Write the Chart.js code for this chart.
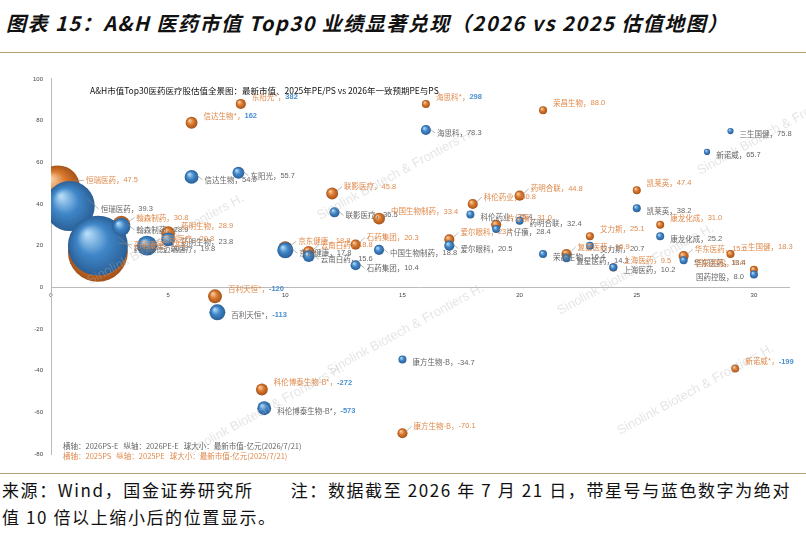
<!DOCTYPE html>
<html><head><meta charset="utf-8">
<script src="https://cdn.jsdelivr.net/npm/chart.js@4"></script>
<style>
body{margin:0;width:806px;height:535px;background:#fff;position:relative;overflow:hidden;font-family:"Noto Sans CJK SC",sans-serif}
#title{position:absolute;left:6px;top:8px;font-size:20px;font-weight:bold;font-style:italic;color:#111;white-space:nowrap;letter-spacing:1.5px}
#line1{position:absolute;left:0;top:52px;width:806px;border-top:1px solid #b9a27a}
#line2{position:absolute;left:0;top:473px;width:806px;border-top:1px solid #b9a27a}
#wrap{position:absolute;left:0;top:49px;width:819px;height:435px}
#foot{position:absolute;left:2px;top:476px;width:804px;font-size:17px;line-height:27px;color:#111;letter-spacing:1.6px}
</style></head><body>
<div id="title">图表 15：A&amp;H 医药市值 Top30 业绩显著兑现（2026 vs 2025 估值地图）</div>
<div id="line1"></div>
<div id="line2"></div>
<div id="foot">来源：Wind，国金证券研究所　　注：数据截至 2026 年 7 月 21 日，带星号与蓝色数字为绝对值 10 倍以上缩小后的位置显示。</div>
<div id="wrap"><canvas id="c"></canvas></div>
<script>
const companies = ['恒瑞医药','药明康德','翰森制药','迈瑞医疗','药明生物','信达生物','东阳光','京东健康','云南白药','联影医疗',
  '石药集团','中国生物制药','海思科','科伦药业','片仔癀','爱尔眼科','药明合联','荣昌生物','复星医药','艾力斯',
  '凯莱英','康龙化成','上海医药','华东医药','三生国健','新诺威','国药控股','百利天恒','科伦博泰生物-B','康方生物-B'];

// 2026: PS-E (x), PE-E (plotted y), label text, market cap (亿元)
const ps26 = [0.8,2.0,3.0,4.1,5.0,6.0,8.0,10.0,11.0,12.1,13.0,14.0,16.0,17.9,19.0,17.0,20.0,21.0,22.0,23.0,25.0,26.0,24.0,27.0,29.0,28.0,30.0,7.1,9.1,15.0];
const pe26 = [39,20,29,20,23,53,55,17.8,15,36,10.6,18,75.5,35,28,20,32,16,14,20,38,24.5,9.6,13,75,65,6.2,-12,-58,-34.6];
const pe26Text = ['39.3','20.8','28.9','19.8','23.8','54.0','55.7','17.8','15.6','36.5','10.4','18.8','78.3','35.4','28.4','20.5','32.4','16.4','14.3','20.7',
  '38.2','25.2','10.2','13.4','75.8','65.7','8.0','*-113','*-573','-34.7'];
const cap26 = [3900,5600,510,620,300,300,220,400,220,160,160,160,160,100,100,160,100,100,100,100,100,100,100,100,60,60,100,400,300,100];

// 2025: PS (x), PE (plotted y), label text, market cap (亿元)
const ps25 = [0.3,2.0,3.0,4.1,5.0,6.0,8.1,10.0,11.0,12.0,13.0,14.0,16.0,18.0,19.0,17.0,20.0,21.0,22.0,23.0,25.0,26.0,24.0,27.0,29.0,29.2,30.0,7.0,9.0,15.0];
const pe25 = [48,17,30,20,26,79,88,18.8,17,45,20.5,33,88,40,30,23,44,85,16,24.5,46.6,30,9.5,15,16,-39,8.4,-4.3,-49,-70];
const pe25Text = ['47.5','18.8','30.8','20.8','28.9','*162','*382','18.8','18.8','45.8','20.3','33.4','*298','40.8','31.0','23.7','44.8','88.0','16.9','25.1',
  '47.4','31.0','9.5','15.0','18.3','*-199','8.4','*-120','*-272','-70.1'];
const cap25 = [3000,5600,510,510,300,220,160,300,220,220,160,220,100,160,160,160,160,100,160,100,100,100,100,160,100,100,100,300,220,160];

const xTicks = [0,5,10,15,20,25,30];
const yTicks = [-80,-60,-40,-20,0,20,40,60,80,100];

const ORANGE = '#d9782d', BLUE = '#3f86c8';
const LBL25 = '#e08a4c', LBL26 = '#666', NUM_BLUE = '#4a8fd0';

function radius(cap){ return Math.sqrt(cap) / 2.5; }

function pts(xs, ys, caps, txt){
  return xs.map((x,i)=>({x:x, y:ys[i], r:radius(caps[i]), name:companies[i], t:txt[i]}));
}

function shade(base, light, dark){
  return c => {
    const ch = c.chart;
    if (!ch.chartArea || !c.raw) return base;
    const px = ch.scales.x.getPixelForValue(c.raw.x), py = ch.scales.y.getPixelForValue(c.raw.y), r = c.raw.r;
    const g = ch.ctx.createRadialGradient(px - r*0.35, py - r*0.4, r*0.05, px, py, r);
    g.addColorStop(0, light); g.addColorStop(0.5, base); g.addColorStop(1, dark);
    return g;
  };
}

const labelPlugin = {
  id:'labels',
  afterDatasetsDraw(chart){
    const ctx = chart.ctx, xs = chart.scales.x, ys = chart.scales.y;
    const top = chart.chartArea.top;
    ctx.save();
    // watermark
    ctx.font = '13px Arial'; ctx.fillStyle = 'rgba(180,180,180,0.35)';
    [[90,236],[320,171],[560,266],[700,126],[330,326],[620,386],[190,406]].forEach(p=>{
      ctx.save(); ctx.translate(p[0], p[1]); ctx.rotate(-0.5);
      ctx.fillText('Sinolink Biotech & Frontiers H.', 0, 0); ctx.restore();
    });
    chart.data.datasets.forEach(ds=>{
      const is25 = ds.label === '2025';
      const col = is25 ? LBL25 : LBL26;
      ds.data.forEach(d=>{
        const px = xs.getPixelForValue(d.x), py = ys.getPixelForValue(d.y);
        const star = d.t.startsWith('*');
        const num = star ? d.t.slice(1) : d.t;
        const name = d.name + (star ? '*' : '');
        ctx.font = '7.5px "Noto Sans CJK SC"';
        const s = name + '，';
        const w = ctx.measureText(s).width;
        ctx.font = (star ? 'bold ' : '') + '7.5px Arial';
        const wn = ctx.measureText(num).width;
        const flip = d.x >= 29.5;
        const lx = flip ? px - d.r - 6 - w - wn : px + d.r + 6;
        const ly = py + (is25 ? -7 : 3);
        if (!star && d.r > 5) {
          ctx.strokeStyle = '#888'; ctx.lineWidth = 0.6;
          ctx.beginPath(); ctx.moveTo(px + d.r*0.7, py - d.r*0.3); ctx.lineTo(lx - 2, ly); ctx.stroke();
        }
        ctx.textBaseline = 'middle';
        ctx.font = '7.5px "Noto Sans CJK SC"';
        ctx.fillStyle = col;
        ctx.fillText(s, lx, ly);
        if (star) { ctx.font = 'bold 7.5px Arial'; ctx.fillStyle = NUM_BLUE; }
        else ctx.font = '7.5px Arial';
        ctx.fillText(num, lx + w, ly);
      });
    });
    // inner title
    ctx.fillStyle = '#111'; ctx.font = '8.5px "Noto Sans CJK SC"'; ctx.textBaseline = 'middle';
    ctx.fillText('A&H市值Top30医药医疗股估值全景图：最新市值、2025年PE/PS vs 2026年一致预期PE与PS', 90, top + 12);
    // legend notes
    ctx.font = '7.5px "Noto Sans CJK SC"';
    ctx.fillStyle = '#666';
    ctx.fillText('横轴：2026PS-E   纵轴：2026PE-E   球大小：最新市值-亿元(2026/7/21)', 63, ys.getPixelForValue(-76));
    ctx.fillStyle = LBL25;
    ctx.fillText('横轴：2025PS   纵轴：2025PE   球大小：最新市值-亿元(2025/7/21)', 63, ys.getPixelForValue(-81));
    ctx.restore();
  }
};

new Chart(document.getElementById('c'), {
  type:'bubble',
  data:{datasets:[
    {label:'2026', order:0, data:pts(ps26, pe26, cap26, pe26Text), backgroundColor:shade(BLUE,'#b3daf6','#2a5f96'), borderWidth:0},
    {label:'2025', order:1, data:pts(ps25, pe25, cap25, pe25Text), backgroundColor:shade(ORANGE,'#f8cfa4','#a4521a'), borderWidth:0}
  ]},
  options:{
    responsive:true, maintainAspectRatio:false, animation:false,
    layout:{padding:{left:24, right:6, top:18, bottom:9}},
    plugins:{legend:{display:false}, tooltip:{enabled:false}},
    scales:{
      x:{type:'linear', min:0, max:31.5, position:{y:0},
        afterBuildTicks:s=>{ s.ticks = xTicks.map(v=>({value:v})); },
        grid:{display:false, drawTicks:false}, border:{color:'#bbb', width:1},
        ticks:{font:{size:6, family:'Arial'}, color:'#444', padding:4}},
      y:{type:'linear', min:-80, max:100,
        afterBuildTicks:s=>{ s.ticks = yTicks.map(v=>({value:v})); },
        afterFit:s=>{ s.width = 27; },
        grid:{display:false, drawTicks:false}, border:{color:'#bbb', width:1},
        ticks:{font:{size:6, family:'Arial'}, color:'#444', padding:8}}
    }
  },
  plugins:[labelPlugin]
});
</script>
</body></html>
